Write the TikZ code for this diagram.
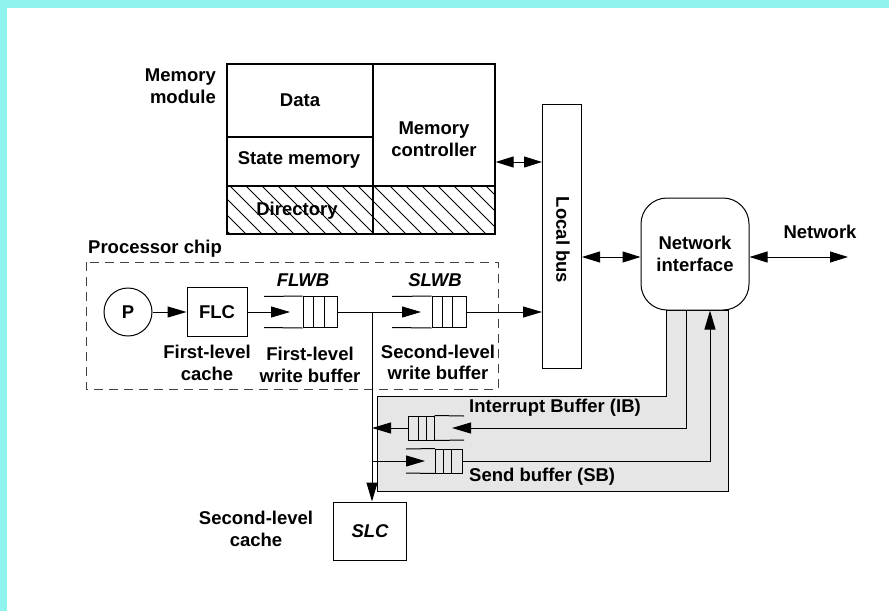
\documentclass[tikz,border=0pt]{standalone}
\usepackage{fontspec}
\setmainfont{Liberation Sans}
\usetikzlibrary{arrows.meta,calc}
\definecolor{bgcyan}{RGB}{142,244,237}
\definecolor{shade}{RGB}{230,230,230}
\begin{document}
\begin{tikzpicture}[x=1pt,y=-1pt,
  every node/.style={font=\fontsize{18.5}{21.5}\selectfont\bfseries, inner sep=0pt},
  box/.style={draw, line width=1pt, rectangle, inner sep=0pt},
  mbox/.style={draw, line width=1.3pt, rectangle, inner sep=0pt},
  ln/.style={line width=1pt},
  arr/.style={line width=1pt, -{Triangle[length=19pt,width=11pt]}},
  dbl/.style={line width=1pt, {Triangle[length=18pt,width=11pt]}-{Triangle[length=18pt,width=11pt]}},
  txt/.style={align=center},
  itl/.style={font=\fontsize{18.5}{21.5}\selectfont\bfseries\itshape},
]
\useasboundingbox (0,0) rectangle (889,611);
\fill[white] (0,0) rectangle (889,611);
\fill[bgcyan] (0,0) rectangle (889,8);
\fill[bgcyan] (0,0) rectangle (7,611);

% grey area for IB/SB
\draw[fill=shade, line width=1pt] (377,396) -- (666,396) -- (666,310) -- (728,310) -- (728,491) -- (377,491) -- cycle;

% processor chip dashed box
\draw[line width=1pt, dash pattern=on 9pt off 6pt, black!75] (86,262) rectangle (498,389);
\node[anchor=west] (pclabel) at (88,249) {Processor chip};

% memory module
\node[mbox, minimum width=146pt, minimum height=73pt] (data) at (300,100.5) {Data};
\node[mbox, minimum width=146pt, minimum height=49pt] (state) at (300,161.5) {};
\node at (299,160) {State memory};
\node[mbox, minimum width=146pt, minimum height=48pt] (dir) at (300,210) {};
\node[mbox, minimum width=122pt, minimum height=122pt] (ctrl) at (434,125) {};
\node[mbox, minimum width=122pt, minimum height=48pt] (ctrlh) at (434,210) {};
\begin{scope}
  \clip (227,186) rectangle (495,234);
  \foreach \x in {182,198,...,500} \draw[line width=0.9pt] (\x,186) -- (\x+48,234);
\end{scope}
\node[mbox, minimum width=146pt, minimum height=48pt] at (300,210) {};
\node[mbox, minimum width=122pt, minimum height=48pt] at (434,210) {};
\node (dirtext) at (297,211) {Directory};
\node[txt] (ctrltext) at (434,139) {Memory\\controller};
\node[align=right, anchor=east] (memlabel) at (216,86) {Memory\\module};

% local bus
\node[box, minimum width=39pt, minimum height=264pt] (bus) at (562,236) {};
\node[rotate=-90] (bustext) at (563,240) {Local bus};

% network interface
\node[draw, line width=1pt, fill=white, rounded corners=26pt, minimum width=108pt, minimum height=112pt, txt] (ni) at (695,254) {Network\\interface};
\coordinate (netend) at (848,257);
\node (netlabel) at (820,232) {Network};

% processor chain
\node[draw, circle, line width=1pt, minimum size=48pt] (p) at (128,312) {P};
\node[box, minimum width=60pt, minimum height=49pt] (flc) at (217,312) {FLC};
\node[txt] (flclabel) at (207,363) {First-level\\cache};

% FLWB queue
\node[box, minimum width=34pt, minimum height=31pt] (flwb) at (320,312) {};
\draw[ln] (264,296.5) -- (flwb.north west) (264,327.5) -- (flwb.south west);
\draw[ln] (313.3,296.5) -- (313.3,327.5) (324,296.5) -- (324,327.5);
\node[itl] (flwbt) at (303,280) {FLWB};
\node[txt] (flwblabel) at (310,365) {First-level\\write buffer};
\coordinate (flwbin) at (290,312);

% SLWB queue
\node[box, minimum width=34pt, minimum height=31pt] (slwb) at (449,312) {};
\draw[ln] (392,296.5) -- (slwb.north west) (392,327.5) -- (slwb.south west);
\draw[ln] (442,296.5) -- (442,327.5) (452,296.5) -- (452,327.5);
\node[itl] (slwbt) at (435,280) {SLWB};
\node[txt] (slwblabel) at (438,362.5) {Second-level\\write buffer};
\coordinate (slwbin) at (421,312);
\coordinate (junc) at (372,312);

% IB queue
\node[box, minimum width=26pt, minimum height=24pt] (ib) at (421,428) {};
\draw[ln] (ib.north east) -- (464,416) (ib.south east) -- (464,440);
\draw[ln] (418.3,416) -- (418.3,440) (426.7,416) -- (426.7,440);
\coordinate (ibin) at (452,428);
\coordinate (ibx) at (686,0);
\node[anchor=west] (iblabel) at (469,408) {Interrupt Buffer (IB)};

% SB queue
\node[box, minimum width=27pt, minimum height=24pt] (sb) at (449,461) {};
\draw[ln] (sb.north west) -- (406,449) (sb.south west) -- (406,473);
\draw[ln] (443.3,449) -- (443.3,473) (451.7,449) -- (451.7,473);
\coordinate (sbin) at (425,461);
\coordinate (sbx) at (710,0);
\node[anchor=west] (sblabel) at (469,477) {Send buffer (SB)};

% SLC
\node[box, minimum width=73pt, minimum height=58pt, itl] (slc) at (370,531) {SLC};
\node[txt] (slclabel) at (256,529) {Second-level\\cache};

% connectors
\draw[arr] (p) -- (flc);
\draw[arr] (flc) -- (flwbin);
\draw[arr] (flwb.east) -- (slwbin);
\draw[arr] (slwb.east) -- (slwb.east -| bus.west);
\draw[arr] (junc) -- (junc |- slc.north);
\draw[dbl] (ctrl.south east |- 0,162) -- (bus.west |- 0,162);
\draw[dbl] (bus.east |- 0,257) -- (ni.west |- 0,257);
\draw[dbl] (ni.east |- 0,257) -- (netend);
\draw[arr] (ni.south -| ibx) |- (ibin);
\draw[arr] (ib.west) -- (ib.west -| junc);
\draw[arr] (junc |- sb) -- (sbin);
\draw[arr] (sb.east) -| (ni.south -| sbx);
\end{tikzpicture}
\end{document}
